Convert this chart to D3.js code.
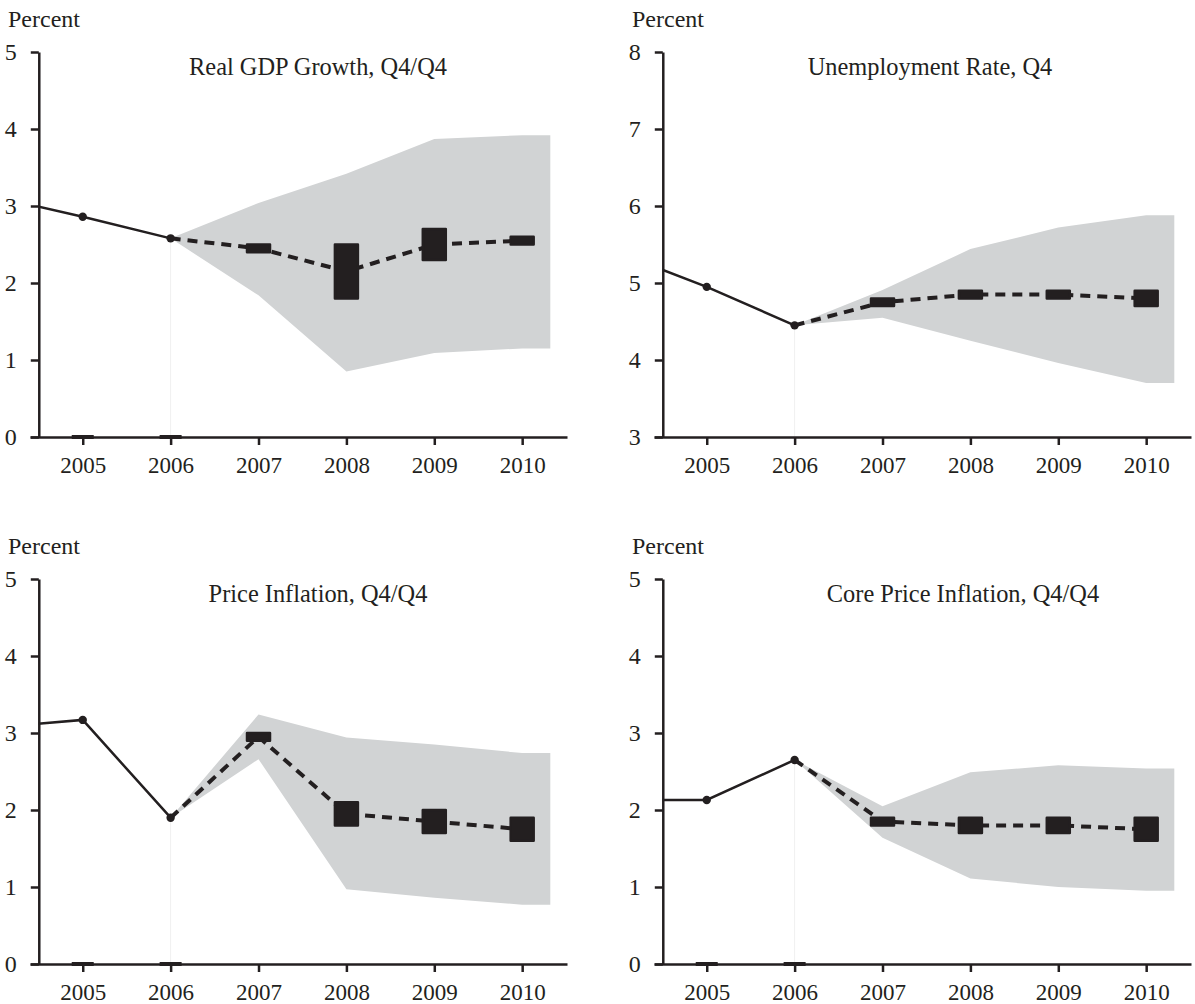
<!DOCTYPE html>
<html>
<head>
<meta charset="utf-8">
<script src="https://cdn.jsdelivr.net/npm/d3@7"></script>
<style>
  body { margin: 0; background: #fff; }
</style>
</head>
<body>
<svg id="chart" width="1195" height="1004" font-family="Liberation Serif"></svg>
<script>
// Four-panel projections chart: history (solid), central tendency (boxes + dashed), range (shade)

// Shared years
const histYears = [2004, 2005, 2006];
const projYears = [2006, 2007, 2008, 2009, 2010];
const boxYears = [2007, 2008, 2009, 2010];
const tickYears = [2005, 2006, 2007, 2008, 2009, 2010];

// Real GDP growth
const gdpHist = [3.12, 2.86, 2.58];
const gdpMid = [2.58, 2.45, 2.15, 2.5, 2.55];
const gdpBoxLo = [2.4, 1.8, 2.3, 2.5];
const gdpBoxHi = [2.5, 2.5, 2.7, 2.6];
const gdpRangeLo = [2.58, 1.84, 0.85, 1.09, 1.15];
const gdpRangeHi = [2.58, 3.04, 3.42, 3.87, 3.92];

// Unemployment rate
const unHist = [5.39, 4.95, 4.45];
const unMid = [4.45, 4.75, 4.85, 4.85, 4.8];
const unBoxLo = [4.7, 4.8, 4.8, 4.7];
const unBoxHi = [4.8, 4.9, 4.9, 4.9];
const unRangeLo = [4.45, 4.55, 4.25, 3.96, 3.7];
const unRangeHi = [4.45, 4.91, 5.44, 5.72, 5.88];

// Price inflation
const piHist = [3.07, 3.17, 1.9];
const piMid = [1.9, 2.95, 1.95, 1.85, 1.75];
const piBoxLo = [2.9, 1.8, 1.7, 1.6];
const piBoxHi = [3.0, 2.1, 2.0, 1.9];
const piRangeLo = [1.9, 2.66, 0.97, 0.86, 0.77];
const piRangeHi = [1.9, 3.24, 2.94, 2.85, 2.74];

// Core price inflation
const coreHist = [2.13, 2.13, 2.65];
const coreMid = [2.65, 1.85, 1.8, 1.8, 1.75];
const coreBoxLo = [1.8, 1.7, 1.7, 1.6];
const coreBoxHi = [1.9, 1.9, 1.9, 1.9];
const coreRangeLo = [2.65, 1.64, 1.11, 1.0, 0.95];
const coreRangeHi = [2.65, 2.05, 2.49, 2.58, 2.54];

// Panel setup
const panels = [
  { title: 'Real GDP Growth, Q4/Q4', yDomain: [0, 5], hist: gdpHist, mid: gdpMid, boxLo: gdpBoxLo, boxHi: gdpBoxHi, rLo: gdpRangeLo, rHi: gdpRangeHi, dx: 0, dy: 0, tx: 318 },
  { title: 'Unemployment Rate, Q4', yDomain: [3, 8], hist: unHist, mid: unMid, boxLo: unBoxLo, boxHi: unBoxHi, rLo: unRangeLo, rHi: unRangeHi, dx: 624, dy: 0, tx: 306 },
  { title: 'Price Inflation, Q4/Q4', yDomain: [0, 5], hist: piHist, mid: piMid, boxLo: piBoxLo, boxHi: piBoxHi, rLo: piRangeLo, rHi: piRangeHi, dx: 0, dy: 527, tx: 318 },
  { title: 'Core Price Inflation, Q4/Q4', yDomain: [0, 5], hist: coreHist, mid: coreMid, boxLo: coreBoxLo, boxHi: coreBoxHi, rLo: coreRangeLo, rHi: coreRangeHi, dx: 624, dy: 527, tx: 339 }
];

const ink = '#231f20';
const shadeColor = '#d1d3d4';
const svg = d3.select('#chart');

const x = d3.scaleLinear().domain([2004.4, 2010.51]).range([30, 567]);
const yAxisYear = 2004.5;
const shadeExtend = 0.32;
const boxW = 23;

panels.forEach(function(p, pi) {

  const g = svg.append('g').attr('transform', 'translate(' + p.dx + ',' + p.dy + ')');
  const y = d3.scaleLinear().domain(p.yDomain).range([437, 52]);
  const x0 = x(yAxisYear);

  // clip for history line so it starts at the y axis
  g.append('clipPath').attr('id', 'clip' + pi)
   .append('rect').attr('x', x0).attr('y', 0).attr('width', 600).attr('height', 460);

  // range shade
  const shade = projYears.map(function(yr, i) { return { x: yr, lo: p.rLo[i], hi: p.rHi[i] }; });
  const last = shade[shade.length - 1];
  shade.push({ x: last.x + shadeExtend, lo: last.lo, hi: last.hi });

  g.append('path')
   .datum(shade)
   .attr('d', d3.area().x(d => x(d.x)).y0(d => y(d.lo)).y1(d => y(d.hi)))
   .style('fill', shadeColor);

  // faint drop line at last history year
  g.append('line')
   .attr('x1', x(2006)).attr('x2', x(2006))
   .attr('y1', y(p.hist[2])).attr('y2', y(p.yDomain[0]))
   .style('stroke', '#f0f0f0').style('stroke-width', 1);

  // axes
  const xAxis = g.append('g')
   .attr('transform', 'translate(0,' + y(p.yDomain[0]) + ')')
   .call(d3.axisBottom(x).tickValues(tickYears).tickFormat(d3.format('d')).tickSize(8).tickSizeOuter(0));
  xAxis.selectAll('text').attr('y', 19.5).attr('dy', '0.71em').style('font-size', '23px');

  const yAxis = g.append('g')
   .attr('transform', 'translate(' + x0 + ',0)')
   .call(d3.axisLeft(y).ticks(5).tickFormat(d3.format('d')).tickSize(8).tickSizeOuter(0).tickPadding(14));
  yAxis.selectAll('text').style('font-size', '24px');

  // d3 axes put a sans-serif family on their group; drop it
  xAxis.attr('font-family', null);
  yAxis.attr('font-family', null);

  g.selectAll('.domain, .tick line').style('stroke', ink).style('stroke-width', 2.5);
  g.selectAll('.domain').style('fill', 'none');

  // zero marks at history years, where zero is on the scale
  if (p.yDomain[0] === 0) {
    g.selectAll('.zero')
     .data(histYears.slice(1))
     .enter().append('line')
     .attr('x1', d => x(d) - 11).attr('x2', d => x(d) + 11)
     .attr('y1', y(0)).attr('y2', y(0))
     .style('stroke', ink).style('stroke-width', 4);
  }

  // history line
  const hist = histYears.map(function(yr, i) { return { x: yr, v: p.hist[i] }; });
  g.append('path')
   .datum(hist)
   .attr('clip-path', 'url(#clip' + pi + ')')
   .attr('d', d3.line().x(d => x(d.x)).y(d => y(d.v)))
   .style('fill', 'none').style('stroke', ink).style('stroke-width', 2.5);

  g.selectAll('.dot')
   .data(hist.slice(1))
   .enter().append('circle')
   .attr('cx', d => x(d.x)).attr('cy', d => y(d.v)).attr('r', 4.2)
   .style('fill', ink);

  // dashed projection line
  const mid = projYears.map(function(yr, i) { return { x: yr, v: p.mid[i] }; });
  g.append('path')
   .datum(mid)
   .attr('d', d3.line().x(d => x(d.x)).y(d => y(d.v)))
   .style('fill', 'none').style('stroke', ink).style('stroke-width', 4)
   .style('stroke-dasharray', '10,7');

  // central tendency boxes
  const boxes = boxYears.map(function(yr, i) { return { x: yr, lo: p.boxLo[i], hi: p.boxHi[i] }; });
  g.selectAll('.box')
   .data(boxes)
   .enter().append('rect')
   .attr('x', d => x(d.x) - boxW / 2).attr('width', boxW)
   .attr('y', d => y(d.hi)).attr('height', d => y(d.lo) - y(d.hi))
   .style('fill', ink).style('stroke', ink).style('stroke-width', 2.5)
   .style('stroke-linejoin', 'round');

  // labels
  g.append('text').attr('x', 8).attr('y', 27).style('font-size', '24px').text('Percent');
  g.append('text').attr('x', p.tx).attr('y', 75).attr('text-anchor', 'middle')
   .style('font-size', '24.4px').text(p.title);

  g.selectAll('text').style('font-family', '"Liberation Serif"').style('fill', ink);
});
</script>
</body>
</html>
